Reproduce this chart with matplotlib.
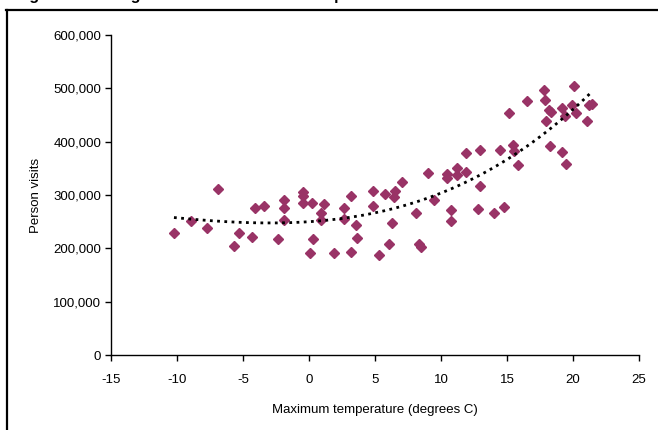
"""
Scatter of person visits against maximum temperature, with a polynomial trend.
"""

import matplotlib

matplotlib.use("Agg")
import matplotlib.pyplot as plt
import numpy as np
from matplotlib.lines import Line2D
from matplotlib.ticker import FuncFormatter

plt.rcParams["font.family"] = ["Liberation Sans", "DejaVu Sans"]
plt.rcParams["axes.unicode_minus"] = False

# Data
max_temp = [
    -10.23, -8.94, -7.75, -6.89, -5.71, -5.30, -4.32, -4.12, -3.41, -2.37,
    -1.92, -1.92, -1.92, -0.43, -0.43, -0.43, 0.10, 0.20, 0.30, 0.93,
    0.93, 1.14, 1.89, 2.65, 2.65, 3.18, 3.18, 3.54, 3.64, 4.82,
    4.82, 5.30, 5.76, 6.04, 6.31, 6.41, 6.49, 7.05, 8.09, 8.36,
    8.46, 8.99, 9.47, 10.48, 10.48, 10.76, 10.76, 11.21, 11.21, 11.87,
    11.87, 12.78, 12.98, 12.98, 14.00, 14.47, 14.75, 15.13, 15.48, 15.56,
    15.83, 16.49, 17.78, 17.88, 17.98, 18.16, 18.26, 18.33, 19.17, 19.17,
    19.37, 19.47, 19.90, 20.10, 20.20, 21.04, 21.19, 21.42,
]
person_visits = [
    228000, 251000, 239000, 311000, 205000, 229000, 221000, 276000, 279000, 217000,
    290000, 276000, 253000, 306000, 299000, 285000, 192000, 285000, 217000, 267000,
    253000, 283000, 192000, 276000, 255000, 299000, 194000, 244000, 219000, 308000,
    279000, 187000, 301000, 208000, 247000, 297000, 307000, 325000, 267000, 208000,
    203000, 341000, 291000, 339000, 331000, 272000, 251000, 350000, 337000, 379000,
    343000, 274000, 384000, 316000, 267000, 384000, 277000, 453000, 394000, 383000,
    356000, 476000, 496000, 478000, 439000, 459000, 392000, 456000, 464000, 381000,
    448000, 359000, 469000, 505000, 454000, 439000, 469000, 471000,
]
x_ticks = [-15, -10, -5, 0, 5, 10, 15, 20, 25]
y_ticks = [0, 100000, 200000, 300000, 400000, 500000, 600000]

title = "Figure 3: Average weekend maximum temperature and visits"


def plot_visits():
    fig = plt.figure(figsize=(6.58, 4.30), dpi=100)
    ax = fig.add_axes([111 / 658, 75 / 430, 528 / 658, 320 / 430])

    x = np.array(max_temp)
    y = np.array(person_visits)

    # Points
    ax.plot(x, y, linestyle="none", marker="D", markersize=4.6,
            color="#993366", zorder=3, clip_on=False)

    # Polynomial trendline
    coef = np.polyfit(x, y, 3)
    xs = np.linspace(x.min(), x.max(), 200)
    ax.plot(xs, np.polyval(coef, xs), color="black", linewidth=2.0,
            linestyle=(0, (1, 1.6)), zorder=4)

    ax.set_xlim(-15, 25)
    ax.set_ylim(0, 600000)
    ax.set_xticks(x_ticks)
    ax.set_yticks(y_ticks)
    ax.yaxis.set_major_formatter(FuncFormatter(lambda v, p: f"{int(v):,}"))

    for side in ["top", "right"]:
        ax.spines[side].set_visible(False)
    for side in ["left", "bottom"]:
        ax.spines[side].set_linewidth(1.0)
    ax.tick_params(direction="out", length=4, width=1.0, labelsize=9.5,
                   colors="black")
    ax.tick_params(axis="x", pad=9.5)
    ax.tick_params(axis="y", pad=3)

    ax.set_xlabel("Maximum temperature (degrees C)", fontsize=9.5, labelpad=13)
    ax.set_ylabel("Person visits", fontsize=9.5, labelpad=8)

    # Outer frame (only left and top visible in the crop)
    fig.add_artist(Line2D([7 / 658, 7 / 658], [0, 1 - 10 / 430],
                          transform=fig.transFigure, color="black", linewidth=1.6))
    fig.add_artist(Line2D([6 / 658, 1], [1 - 10 / 430, 1 - 10 / 430],
                          transform=fig.transFigure, color="black", linewidth=1.6))

    # Title is cut off above the crop, only descenders show
    fig.text(15 / 658, 1.0, title, fontsize=11.5, fontweight="bold",
             va="baseline", ha="left")

    fig.savefig("out.png", dpi=100)


if __name__ == "__main__":
    plot_visits()
